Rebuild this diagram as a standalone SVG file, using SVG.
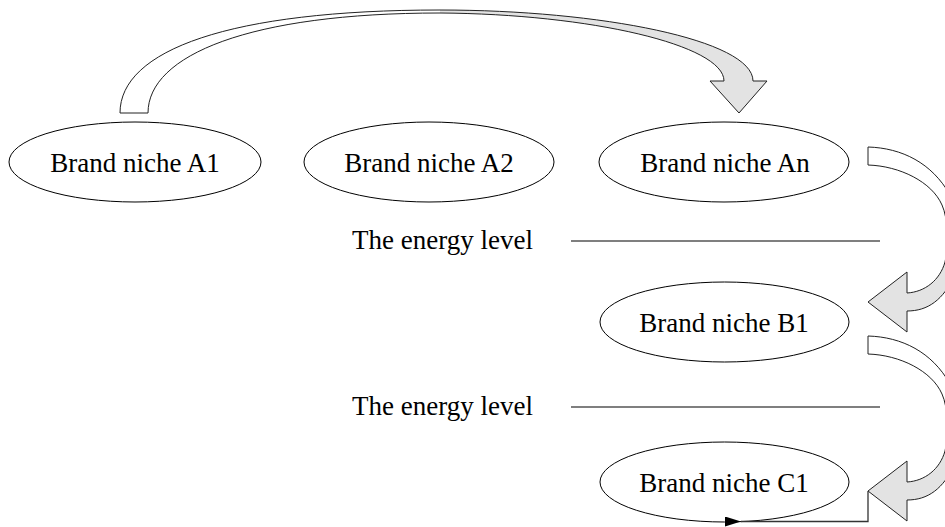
<svg xmlns="http://www.w3.org/2000/svg" width="945" height="527" viewBox="0 0 945 527">
<defs>
<style>
.node ellipse{fill:#fff;stroke:#000;stroke-width:1}
.lbl{font-family:"Liberation Serif","Times New Roman",serif;font-size:27px;fill:#000}
.c{text-anchor:middle}
.level{stroke:#000;stroke-width:1.2}
.shade{fill:#e3e3e3;stroke:none}
.front{fill:#fff;stroke:none}
.outline{fill:none;stroke:#222;stroke-width:1}
</style>
<marker id="ah" markerWidth="16" markerHeight="10" refX="0" refY="5" orient="auto" markerUnits="userSpaceOnUse">
<path d="M16,0 L0,5 L16,10 Z" fill="#000"/>
</marker>
<path id="cl-shape" d="M868,147 C902,148 932,163 950,195 L990,195 L990,285 L955,275 C943,300 928,311 907,311 L907,332 L868,302 L907,272 L907,293 C925,292 940,280 945,262 C949,245 948,218 942,205 C932,182 900,166 868,165 Z"/>
<g id="curvedLeft">
<use href="#cl-shape" class="shade"/>
<path class="front" d="M868,147 C902,148 932,163 950,195 L990,195 L990,250 L947,250 C948,232 948,218 942,205 C932,182 900,166 868,165 Z"/>
<use href="#cl-shape" class="outline"/>
</g>
<path id="cd-shape" d="M120,113 C120,50 230,10 440,10 C600,10 753,40 753,81 L767,81 L739,113 L710,81 L724,81 C724,45 590,14 440,13 C250,13 148,55 148,113 Z"/>
</defs>
<rect width="945" height="527" fill="#fff"/>

<g id="node-A1" class="node"><ellipse cx="135" cy="162" rx="126" ry="40"/><text class="lbl c" x="135" y="172">Brand niche A1</text></g>
<g id="node-A2" class="node"><ellipse cx="429" cy="162" rx="125" ry="40"/><text class="lbl c" x="429" y="172">Brand niche A2</text></g>
<g id="node-An" class="node"><ellipse cx="724" cy="162" rx="125" ry="40"/><text class="lbl c" x="725" y="172">Brand niche An</text></g>
<g id="node-B1" class="node"><ellipse cx="724.5" cy="322" rx="124.5" ry="40"/><text class="lbl c" x="724" y="332">Brand niche B1</text></g>
<g id="node-C1" class="node"><ellipse cx="724.5" cy="482" rx="124.5" ry="40"/><text class="lbl c" x="724" y="492">Brand niche C1</text></g>

<g id="level-1"><text class="lbl" x="352" y="249">The energy level</text><line class="level" x1="571" y1="241" x2="880" y2="241"/></g>
<g id="level-2"><text class="lbl" x="352" y="415">The energy level</text><line class="level" x1="571" y1="407" x2="880" y2="407"/></g>

<g id="connectors">
<g id="arrow-A1-An">
<use href="#cd-shape" class="shade"/>
<path class="front" d="M120,113 C120,50 230,10 440,10 L440,13 C250,13 148,55 148,113 Z"/>
<use href="#cd-shape" class="outline"/>
</g>
<use id="arrow-An-B1" href="#curvedLeft"/>
<use id="arrow-B1-C1" href="#curvedLeft" transform="translate(0,189)"/>
<polyline id="arrow-C1-loop" points="868,491 868,521.5 741,521.5" fill="none" stroke="#333" stroke-width="1.3" marker-end="url(#ah)"/>
</g>
</svg>
